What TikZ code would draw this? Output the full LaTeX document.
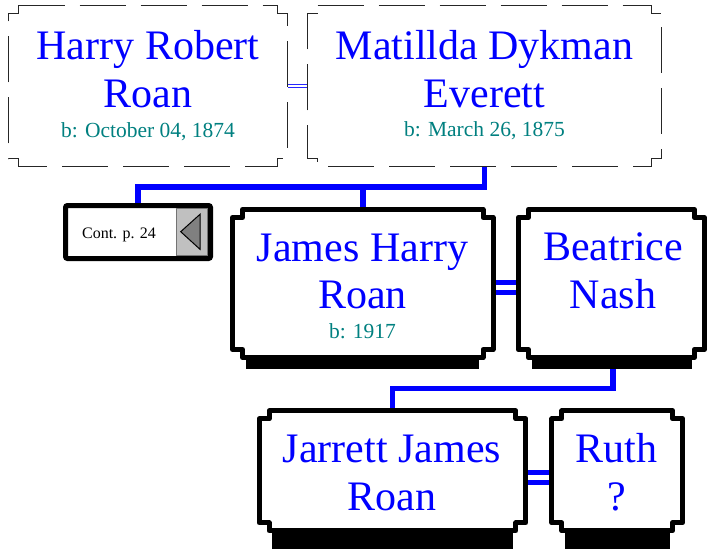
\documentclass[tikz,border=0pt]{standalone}
\usepackage{fontspec}
\setmainfont{Liberation Serif}
\usetikzlibrary{calc}
\definecolor{namecol}{RGB}{0,0,255}
\definecolor{datecol}{RGB}{0,128,128}
\definecolor{btngray}{RGB}{192,192,192}
\definecolor{tridark}{RGB}{128,128,128}
\newcommand\notchoutline[1]{($(#1.north west)+(10,0)$) -- ($(#1.north east)+(-10,0)$) -- ++(0,8) -- ++(10,0) -- ($(#1.south east)+(0,-8)$) -- ++(-10,0) -- ++(0,8) -- ($(#1.south west)+(10,0)$) -- ++(0,-8) -- ++(-10,0) -- ($(#1.north west)+(0,8)$) -- ++(10,0) -- cycle}
\tikzset{
  boxarea/.style={rectangle, inner sep=0pt, outer sep=0pt},
  dashedbox/.style={draw=black!85, line width=1pt, dash pattern=on 46pt off 15pt, fill=white},
  thickbox/.style={draw=black, line width=5pt, line join=round, fill=white},
  contbox/.style={boxarea, draw=black, line width=5pt, rounded corners=2pt, fill=white},
  famline/.style={draw=namecol, line width=5.5pt},
  coupleline/.style={draw=namecol, line width=5pt, double=white, double distance=5pt},
  thincouple/.style={draw=namecol!85, line width=1.3pt, double=white, double distance=2.3pt},
  nametext/.style={anchor=base, inner sep=0pt, text=namecol, font=\fontsize{42}{48}\selectfont},
  datetext/.style={anchor=base, inner sep=0pt, text=datecol, font=\fontsize{21.5}{25}\selectfont},
  conttext/.style={anchor=base, inner sep=0pt, text=black, font=\fontsize{16}{19}\selectfont},
}
\begin{document}
\begin{tikzpicture}[x=1pt,y=-1pt]
\clip (0,0) rectangle (708,548);
\fill[white] (0,0) rectangle (708,548);
% box areas
\node[boxarea, minimum width=279pt, minimum height=161pt] (harry) at (148,86) {};
\node[boxarea, minimum width=354pt, minimum height=161pt] (matilda) at (484.5,86) {};
\node[boxarea, minimum width=260.5pt, minimum height=148pt] (james) at (362.75,283.5) {};
\node[boxarea, minimum width=186pt, minimum height=148pt] (beatrice) at (611.2,283.5) {};
\node[boxarea, minimum width=266.6pt, minimum height=120pt] (jarrett) at (392.5,470.8) {};
\node[boxarea, minimum width=130.7pt, minimum height=120pt] (ruth) at (617.15,470.8) {};
\node[boxarea, minimum width=145pt, minimum height=53pt] (cont) at (138,232) {};
% connectors
\coordinate (fam1) at ($(matilda.south)+(0,20.5)$);
\draw[famline] (matilda.south) -- (fam1) -| (cont.north);
\draw[famline] (james.north) -- (james.north |- fam1);
\coordinate (fam2) at ($(beatrice.south)+(2,31)$);
\draw[famline] ($(beatrice.south)+(2,0)$) -- (fam2) -| (jarrett.north);
\draw[thincouple] (harry.east) -- (matilda.west);
\draw[coupleline] ([yshift=-4pt]james.east) -- ([yshift=-4pt]beatrice.west);
\draw[coupleline] ([yshift=-6.7pt]jarrett.east) -- ([yshift=-6.7pt]ruth.west);
% continuation box
\draw[contbox] (cont.north west) rectangle (cont.south east);
\filldraw[fill=btngray, draw=black!55, line width=0.8pt] (176.5,208.5) rectangle (207,255.8);
\filldraw[fill=tridark, draw=black, line width=1pt] (180.7,231.7) -- (200,214.3) -- (200,249.3) -- cycle;
\node[conttext] (conttxt) at (119,238) {Cont. p. 24};
% boxes
\draw[dashedbox] \notchoutline{harry};
\draw[dashedbox] \notchoutline{matilda};
\draw[thickbox] \notchoutline{james};
\draw[thickbox] \notchoutline{beatrice};
\draw[thickbox] \notchoutline{jarrett};
\draw[thickbox] \notchoutline{ruth};
% shadows
\fill[black] ($(james.south west)+(13.5,-2)$) rectangle ($(james.south east)+(-14,11.5)$);
\fill[black] ($(beatrice.south west)+(14,-2)$) rectangle ($(beatrice.south east)+(-12,11.5)$);
\fill[black] ($(jarrett.south west)+(13,2.5)$) rectangle ($(jarrett.south east)+(-13,18)$);
\fill[black] ($(ruth.south west)+(13,2.5)$) rectangle ($(ruth.south east)+(-13,18)$);
% texts
\node[nametext] (h1) at (148,60) {Harry Robert};
\node[nametext] (h2) at (148,108) {Roan};
\node[datetext] (h3) at (148,138) {b: October 04, 1874};
\node[nametext] (m1) at (484.5,60) {Matillda Dykman};
\node[nametext] (m2) at (484.5,108) {Everett};
\node[datetext] (m3) at (484.5,137) {b: March 26, 1875};
\node[nametext] (j1) at (362.5,261) {James Harry};
\node[nametext] (j2) at (362.5,308) {Roan};
\node[datetext] (j3) at (362.5,338) {b: 1917};
\node[nametext] (b1) at (613,260) {Beatrice};
\node[nametext] (b2) at (613,308) {Nash};
\node[nametext] (r1) at (392,462) {Jarrett James};
\node[nametext] (r2) at (392,510) {Roan};
\node[nametext] (u1) at (616.5,462) {Ruth};
\node[nametext] (u2) at (616.5,510) {?};
\end{tikzpicture}
\end{document}
